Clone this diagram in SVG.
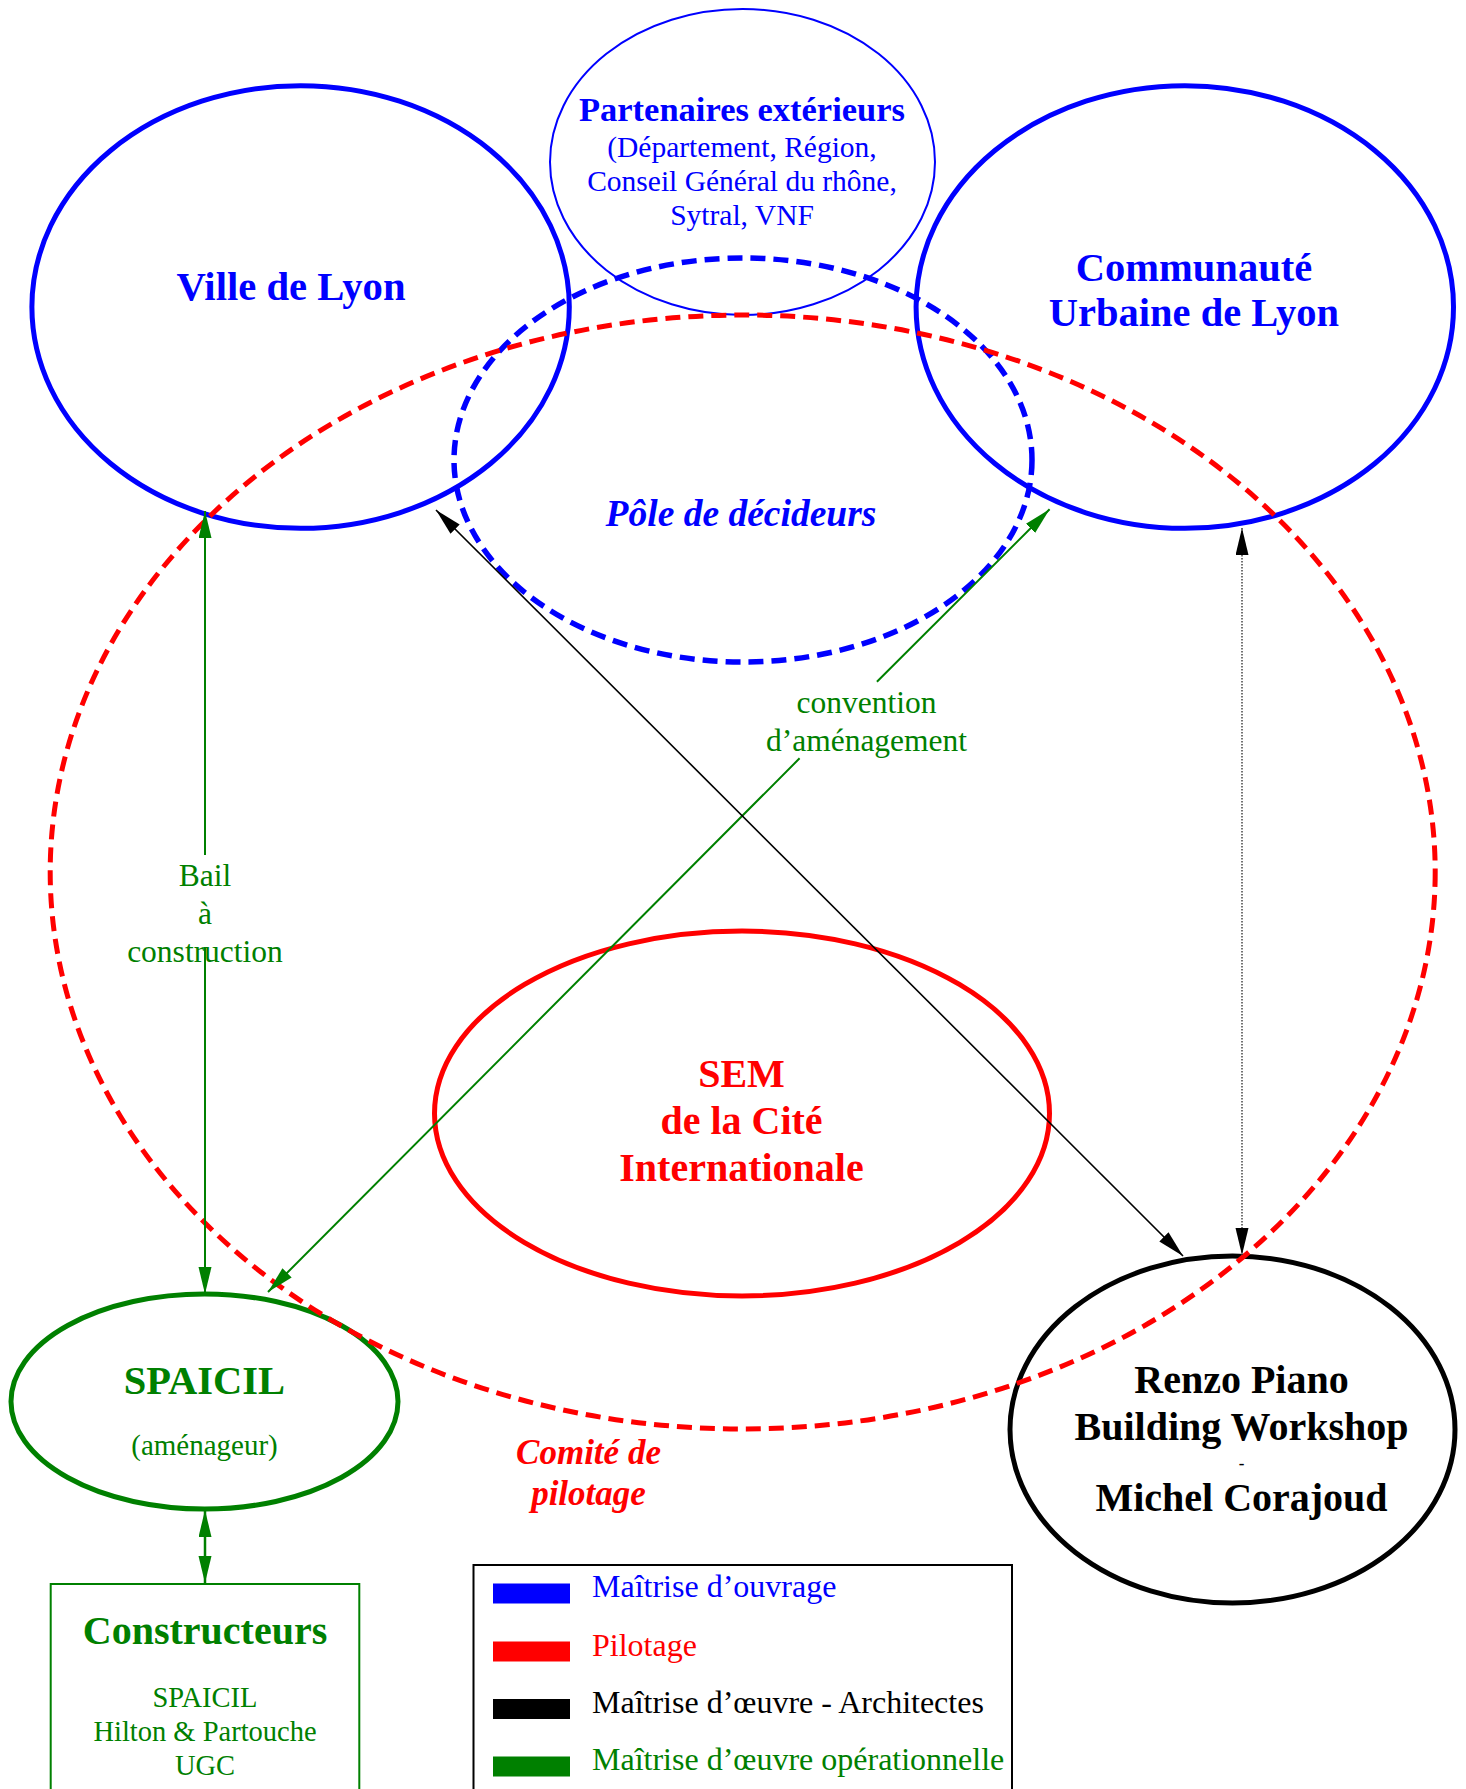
<svg xmlns="http://www.w3.org/2000/svg" width="1466" height="1789" viewBox="0 0 1466 1789">
<style>
text{font-family:"Liberation Serif","Times New Roman",serif;text-anchor:middle}
.b{font-weight:bold}
.bi{font-weight:bold;font-style:italic}
.blue{fill:#0000ff}.red{fill:#ff0000}.green{fill:#008000}.black{fill:#000}
.node{fill:none}
.dash{stroke-dasharray:15 8}
.lg{text-anchor:start;font-size:32px}
</style>
<defs>
<marker id="ab" markerUnits="userSpaceOnUse" markerWidth="28" markerHeight="14" refX="27" refY="6.5" orient="auto-start-reverse"><path d="M0,0 L27,6.5 L0,13 z" fill="#000"/></marker>
<marker id="ag" markerUnits="userSpaceOnUse" markerWidth="28" markerHeight="14" refX="27" refY="6.5" orient="auto-start-reverse"><path d="M0,0 L27,6.5 L0,13 z" fill="#008000"/></marker>
</defs>
<rect width="1466" height="1789" fill="#fff"/>

<g id="partenaires">
<ellipse class="node" cx="742.5" cy="162" rx="192.5" ry="153" stroke="#0000ff" stroke-width="2"/>
<text class="b blue" x="742" y="121" font-size="34.5">Partenaires extérieurs</text>
<text class="blue" x="742" y="157" font-size="29.5">(Département, Région,</text>
<text class="blue" x="742" y="191" font-size="29.5">Conseil Général du rhône,</text>
<text class="blue" x="742" y="225" font-size="29.5">Sytral, VNF</text>
</g>

<g id="ville">
<ellipse class="node" cx="300.6" cy="307" rx="268.7" ry="221.3" stroke="#0000ff" stroke-width="5"/>
<text class="b blue" x="291" y="300" font-size="40.7">Ville de Lyon</text>
</g>

<g id="communaute">
<ellipse class="node" cx="1184.8" cy="307" rx="268.7" ry="221.3" stroke="#0000ff" stroke-width="5"/>
<text class="b blue" x="1194" y="281" font-size="40.5">Communauté</text>
<text class="b blue" x="1194" y="326" font-size="40.5">Urbaine de Lyon</text>
</g>

<g id="pole">
<ellipse class="node dash" cx="743" cy="460" rx="289" ry="202" stroke="#0000ff" stroke-width="5.5"/>
<text class="bi blue" x="741" y="526" font-size="37.5">Pôle de décideurs</text>
</g>

<g id="sem">
<ellipse class="node" cx="742" cy="1113.5" rx="307.5" ry="182.5" stroke="#ff0000" stroke-width="5"/>
<text class="b red" x="741.5" y="1087" font-size="40">SEM</text>
<text class="b red" x="741.5" y="1134" font-size="40">de la Cité</text>
<text class="b red" x="741.5" y="1181" font-size="40">Internationale</text>
</g>

<g id="spaicil">
<ellipse class="node" cx="204.5" cy="1401.5" rx="193.5" ry="107.5" stroke="#008000" stroke-width="5"/>
<text class="b green" x="204.5" y="1394" font-size="40.5">SPAICIL</text>
<text class="green" x="204.5" y="1455" font-size="29">(aménageur)</text>
</g>

<g id="renzo">
<ellipse class="node" cx="1232.5" cy="1429.5" rx="222.5" ry="173.5" stroke="#000" stroke-width="5"/>
<text class="b black" x="1241.5" y="1393" font-size="40">Renzo Piano</text>
<text class="b black" x="1241.5" y="1440" font-size="40">Building Workshop</text>
<text class="b black" x="1241.5" y="1469" font-size="17">-</text>
<text class="b black" x="1241.5" y="1511" font-size="40">Michel Corajoud</text>
</g>

<g id="comite">
<ellipse class="node dash" cx="742.7" cy="872" rx="692.5" ry="557" stroke="#ff0000" stroke-width="5"/>
<text class="bi red" x="588.5" y="1464" font-size="35">Comité de</text>
<text class="bi red" x="588.5" y="1505" font-size="35">pilotage</text>
</g>

<g id="constructeurs">
<rect x="50.7" y="1584" width="308.6" height="230" fill="none" stroke="#008000" stroke-width="2"/>
<text class="b green" x="205" y="1644" font-size="40">Constructeurs</text>
<text class="green" x="205" y="1707" font-size="28.5">SPAICIL</text>
<text class="green" x="205" y="1741" font-size="28.5">Hilton &amp; Partouche</text>
<text class="green" x="205" y="1775" font-size="28.5">UGC</text>
</g>

<g id="connectors" fill="none">
<path d="M205,511 L205,855 M205,947 L205,1294" stroke="#008000" stroke-width="2" marker-start="url(#ag)" marker-end="url(#ag)"/>
<path d="M1049.6,509.3 L876.9,681.7 M799.6,758.3 L268,1292" stroke="#008000" stroke-width="2" marker-start="url(#ag)" marker-end="url(#ag)"/>
<path d="M436,510 L1183,1256" stroke="#000" stroke-width="1.6" marker-start="url(#ab)" marker-end="url(#ab)"/>
<path d="M1242,528 L1242,1255" stroke="#444" stroke-width="1.5" stroke-dasharray="1.5 1.5" marker-start="url(#ab)" marker-end="url(#ab)"/>
<path d="M205,1510 L205,1583" stroke="#008000" stroke-width="2.5" marker-start="url(#ag)" marker-end="url(#ag)"/>
<text class="green" x="205" y="886" font-size="31.5">Bail</text>
<text class="green" x="205" y="924" font-size="31.5">à</text>
<text class="green" x="205" y="962" font-size="31.5">construction</text>
<text class="green" x="866.5" y="713" font-size="31.5">convention</text>
<text class="green" x="866.5" y="751" font-size="31.5">d’aménagement</text>
</g>

<g id="legend">
<rect x="473.5" y="1565" width="538.5" height="240" fill="none" stroke="#000" stroke-width="2"/>
<rect x="493" y="1583.5" width="77" height="20" fill="#0000ff"/>
<rect x="493" y="1641.5" width="77" height="20" fill="#ff0000"/>
<rect x="493" y="1699" width="77" height="20" fill="#000"/>
<rect x="493" y="1756.5" width="77" height="20" fill="#008000"/>
<text class="lg blue" x="592" y="1597">Maîtrise d’ouvrage</text>
<text class="lg red" x="592" y="1655.5">Pilotage</text>
<text class="lg black" x="592" y="1712.5">Maîtrise d’œuvre - Architectes</text>
<text class="lg green" x="592" y="1770">Maîtrise d’œuvre opérationnelle</text>
</g>
</svg>
